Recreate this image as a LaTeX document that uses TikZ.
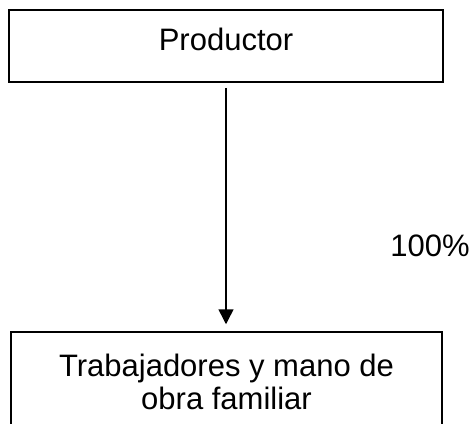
\documentclass[tikz,border=0pt]{standalone}
\usepackage{fontspec}
\setmainfont{Liberation Sans}
\usetikzlibrary{arrows.meta}
\usetikzlibrary{positioning}
\tikzset{flow/.style = {-{Triangle[length=15pt, width=15pt]}, shorten <=5pt, shorten >=7pt},
         box/.style = {draw, inner sep=0pt, align=center}}

\begin{document}
\begin{tikzpicture}[x=1pt, y=-1pt, line width=1.5pt, font=\fontsize{31}{33}\selectfont]
      \useasboundingbox (0, 0) rectangle (473, 423);

      \node [box, minimum width=434pt, minimum height=72pt, text depth=14pt] (productor) at (226, 46) {Productor};
      \node [box, minimum width=431pt, minimum height=100pt] (trabajadores) at (226.5, 382) {Trabajadores y mano de\\obra familiar};

      \draw [flow] (productor.south) -- (productor.south |- trabajadores.north);

      \node (porcentaje) at (430, 246) {100\%};
    \end{tikzpicture}
\end{document}
